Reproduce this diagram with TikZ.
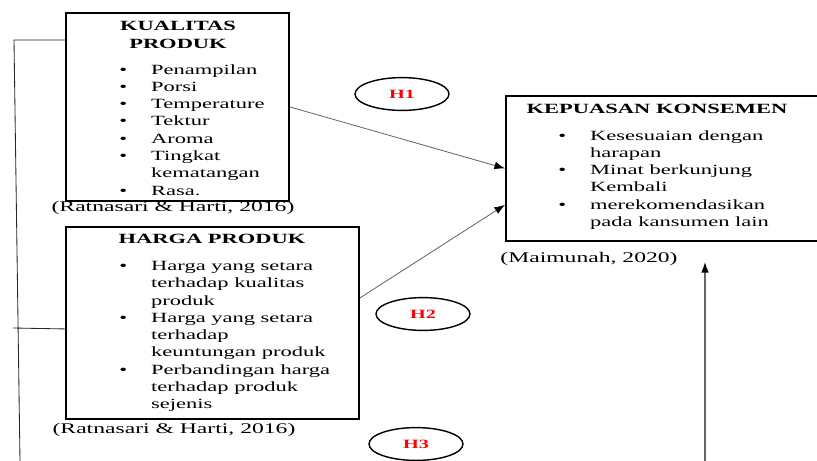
\documentclass[tikz,border=0pt]{standalone}
\usepackage{fontspec}
\setmainfont{Liberation Serif}[FakeStretch=1.6]
\usetikzlibrary{shapes,positioning,arrows.meta}
\tikzset{box/.style={draw,line width=1.3pt,anchor=north west,inner sep=0pt},
  ttl/.style={font=\fontsize{10}{12.3}\selectfont\bfseries,align=center,inner sep=0pt},
  lst/.style={font=\fontsize{10}{12.3}\selectfont,align=left,anchor=north west,inner sep=0pt},
  cite/.style={font=\fontsize{10.5}{12}\selectfont,inner sep=0pt},
  hyp/.style={ellipse,draw,line width=1pt,minimum width=2.35cm,minimum height=0.82cm,text=red,font=\fontsize{9}{10}\selectfont\bfseries},
  lnk/.style={draw=black!60,line width=0.6pt,-{Latex[color=black,length=7.5pt,width=5.5pt]}}}
\newcommand{\itm}{\makebox[22.7pt][l]{\textbullet}}
\newcommand{\ind}{\hspace*{22.7pt}}

\begin{document}
\begin{tikzpicture}[x=0.025cm,y=-0.025cm]
    \useasboundingbox (0,0) rectangle (817,461);
    \clip (0,0) rectangle (817,461);

    \node[box,minimum width=5.575cm,minimum height=4.7cm] (kualitas) at (65,12) {};
    \node[box,minimum width=7.325cm,minimum height=4.8cm] (harga) at (65,226) {};
    \node[box,minimum width=8.3cm,minimum height=3.625cm] (kepuasan) at (505,95) {};

    \node[ttl] (t1) at (178,35) {KUALITAS\\PRODUK};
    \node[ttl] (t2) at (212,239) {HARGA PRODUK};
    \node[ttl] (t3) at (657,109) {KEPUASAN KONSEMEN};

    \node[lst] (l1) at (119,64) {\itm Penampilan\\ \itm Porsi\\ \itm Temperature\\ \itm Tektur\\ \itm Aroma\\
      \itm Tingkat\\ \ind kematangan\\ \itm Rasa.};
    \node[lst] (l2) at (119,261) {\itm Harga yang setara\\ \ind terhadap kualitas\\ \ind produk\\
      \itm Harga yang setara\\ \ind terhadap\\ \ind keuntungan produk\\
      \itm Perbandingan harga\\ \ind terhadap produk\\ \ind sejenis};
    \node[lst] (l3) at (558,130) {\itm Kesesuaian dengan\\ \ind harapan\\ \itm Minat berkunjung\\
      \ind Kembali\\ \itm merekomendasikan\\ \ind pada kansumen lain};

    \node[cite] (c1) at (173,208) {(Ratnasari \& Harti, 2016)};
    \node[cite] (c2) at (174,430) {(Ratnasari \& Harti, 2016)};
    \node[cite] (c3) at (589,259) {(Maimunah, 2020)};

    \node[hyp] (h1) at (402,94) {H1};
    \node[hyp] (h2) at (423,314) {H2};
    \node[hyp] (h3) at (416,444) {H3};

    \coordinate (bot) at (705,461);
    \coordinate (top) at (705,262);
    \coordinate (corner) at (14,40);
    \coordinate (foot) at (20,461);
    \coordinate (mid) at (13,328);

    \draw [lnk] (kualitas.east) to (kepuasan.west);
    \draw [lnk] ([yshift=0.625cm]harga.east) to ([yshift=-0.91cm]kepuasan.west);
    \draw [lnk,line width=1pt] (bot) to (top);
    \draw [black!85,line width=0.6pt] ([yshift=-0.7cm]kualitas.north west) -- (corner) -- (foot);
    \draw [black!85,line width=0.6pt] ([yshift=-0.15cm]harga.west) -- (mid);
\end{tikzpicture}
\end{document}
